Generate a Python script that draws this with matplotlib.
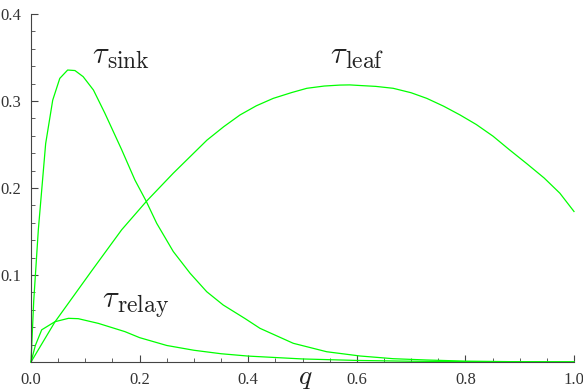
import matplotlib
matplotlib.use("Agg")
import matplotlib.pyplot as plt
from matplotlib.ticker import MultipleLocator

plt.rcParams['mathtext.fontset'] = 'cm'

# values
sink_q = [0, 0.005, 0.0135, 0.027, 0.040, 0.053, 0.0675, 0.081, 0.096, 0.115, 0.136, 0.167,
          0.1915, 0.212, 0.2315, 0.262, 0.293, 0.3236, 0.354, 0.394, 0.4217, 0.483, 0.5445,
          0.606, 0.667, 0.729, 0.8, 0.9, 1.0]
sink_v = [0, 0.07, 0.152, 0.251, 0.301, 0.326, 0.3356, 0.335, 0.328, 0.3126, 0.286, 0.244,
          0.209, 0.185, 0.1594, 0.127, 0.102, 0.0808, 0.0655, 0.050, 0.0387, 0.0215, 0.0118,
          0.0069, 0.0038, 0.0023, 0.001, 0.0003, 0.0001]

leaf_q = [0, 0.044, 0.112, 0.167, 0.213, 0.262, 0.324, 0.355, 0.385, 0.415, 0.446, 0.48,
          0.508, 0.54, 0.569, 0.587, 0.606, 0.635, 0.667, 0.70, 0.729, 0.76, 0.790, 0.82,
          0.851, 0.88, 0.913, 0.945, 0.974, 1.0]
leaf_v = [0, 0.046, 0.105, 0.152, 0.185, 0.217, 0.255, 0.2705, 0.284, 0.2945, 0.303, 0.3097,
          0.3146, 0.3172, 0.3183, 0.3185, 0.3178, 0.3168, 0.3146, 0.3095, 0.303, 0.294, 0.284,
          0.273, 0.2595, 0.2445, 0.228, 0.2115, 0.194, 0.173]

relay_q = [0, 0.008, 0.0197, 0.044, 0.069, 0.087, 0.124, 0.173, 0.2, 0.25, 0.3, 0.35, 0.4,
           0.5, 0.6, 0.7, 0.8, 1.0]
relay_v = [0, 0.019, 0.037, 0.0463, 0.0502, 0.0498, 0.0444, 0.0349, 0.028, 0.019, 0.0135,
           0.0095, 0.0068, 0.0035, 0.0018, 0.0009, 0.0004, 0.0001]

subscripts = ['sink', 'leaf', 'relay']
label_pos = [(0.1123, 0.3437), (0.5506, 0.3437), (0.130, 0.0632)]

fig = plt.figure(figsize=(5.83, 3.92), dpi=100)
ax = fig.add_axes([31 / 583, 30 / 392, 543 / 583, 348 / 392])

green = '#00ff00'
for qs, vs in [(sink_q, sink_v), (leaf_q, leaf_v), (relay_q, relay_v)]:
    ax.plot(qs, vs, color=green, lw=0.9, clip_on=False, solid_joinstyle='round')

# tau and its subscript drawn separately so the subscript can be larger
for sub, (x, y) in zip(subscripts, label_pos):
    ax.text(x, y, r'$\tau$', fontsize=22, color='#222222', ha='left', va='baseline')
    ax.annotate(r'$\mathrm{' + sub + '}$', xy=(x, y), xytext=(11, -3.6),
                textcoords='offset points', fontsize=17, color='#222222',
                ha='left', va='baseline')

ax.set_xlim(0, 1)
ax.set_ylim(0, 0.4)
for side in ['top', 'right']:
    ax.spines[side].set_visible(False)
for side in ['left', 'bottom']:
    ax.spines[side].set_color('#444444')
    ax.spines[side].set_linewidth(0.8)

ax.xaxis.set_minor_locator(MultipleLocator(0.05))
ax.yaxis.set_minor_locator(MultipleLocator(0.02))
ax.set_xticks([0, 0.2, 0.4, 0.6, 0.8, 1.0])
ax.set_xticklabels(['0.0', '0.2', '0.4', '0.6', '0.8', '1.0'])
ax.set_yticks([0.1, 0.2, 0.3, 0.4])
ax.set_yticklabels(['0.1', '0.2', '0.3', '0.4'])
ax.tick_params(which='major', direction='in', length=5, width=0.8, color='#444444',
               labelsize=12, pad=7)
ax.tick_params(which='minor', direction='in', length=3, width=0.6, color='#444444')
for lab in ax.get_xticklabels() + ax.get_yticklabels():
    lab.set_fontfamily('Liberation Serif')
    lab.set_color('#333333')

ax.text(0.505, -0.063, r'$q$', fontsize=20, ha='center', va='baseline',
        transform=ax.transAxes, color='#222222')

fig.savefig('out.png', dpi=100)
